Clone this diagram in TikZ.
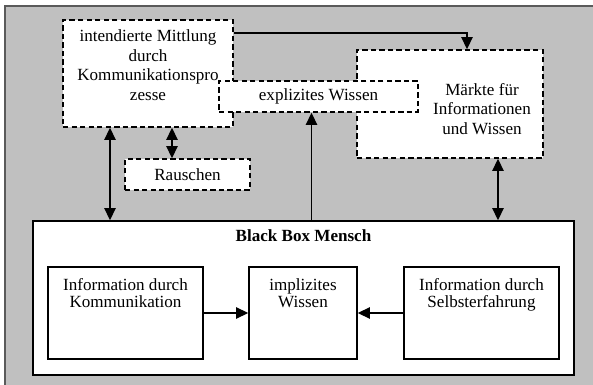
\documentclass[tikz,border=0pt]{standalone}
\usepackage{fontspec}
\setmainfont{Liberation Serif}
\usepackage{tikz}
\usetikzlibrary{arrows.meta,positioning}
\definecolor{backgray}{RGB}{192,192,192}
\definecolor{framegray}{RGB}{90,90,90}

\begin{document}
\begin{tikzpicture}[x=0.75pt,y=-0.75pt,
   box/.style={draw, fill=white, line width=1.25pt, inner sep=0pt},
   dbox/.style={box, dash pattern=on 4pt off 2.4pt, font=\fontsize{12.8}{14.6}\selectfont},
   txt/.style={inner sep=0pt, align=center, font=\fontsize{12.8}{14.6}\selectfont},
   itxt/.style={txt, font=\fontsize{12.8}{12.75}\selectfont},
   arr/.style={line width=1.1pt, -{Triangle[length=9pt,width=8.5pt]}},
   dbl/.style={line width=1.1pt, {Triangle[length=9pt,width=8.5pt]}-{Triangle[length=9pt,width=8.5pt]}}]
   \useasboundingbox (0,0) rectangle (593,385);
   \fill[backgray] (4,5) rectangle (593,385);
   \draw[framegray, line width=1.5pt] (4.8,385) -- (4.8,5.8) -- (593,5.8);

   \node(IM)[dbox, minimum width=127.5pt, minimum height=80.25pt] at (148,73.5) {};
   \node(NIM)[txt, below=8pt] at (IM.north) {intendierte Mittlung\\durch\\Kommunikationspro\\zesse};

   \node(MK)[dbox, minimum width=139.5pt, minimum height=81pt] at (450,104) {};
   \node(NMK)[txt, below=25.4pt, xshift=24pt] at (MK.north) {Märkte für\\Informationen\\und Wissen};

   \node(EW)[dbox, minimum width=149.25pt, minimum height=23.25pt] at (318.5,96.5) {explizites Wissen};
   \node(RS)[dbox, minimum width=93.75pt, minimum height=23.25pt] at (187.5,174.5) {Rauschen};

   \node(BB)[box, minimum width=405.75pt, minimum height=115.5pt] at (303.5,298) {};
   \node(NBB)[txt, below=6.75pt, font=\fontsize{12.8}{14.6}\selectfont\bfseries] at (BB.north) {Black Box Mensch};

   \node(IK)[box, minimum width=116.25pt, minimum height=69pt] at (125.5,313) {};
   \node(NIK)[itxt, below=9pt] at (IK.north) {Information durch\\Kommunikation};
   \node(IW)[box, minimum width=81pt, minimum height=69pt] at (303,313) {};
   \node(NIW)[itxt, below=9pt] at (IW.north) {implizites\\Wissen};
   \node(IS)[box, minimum width=116.25pt, minimum height=69pt] at (481.5,313) {};
   \node(NIS)[itxt, below=9pt] at (IS.north) {Information durch\\Selbsterfahrung};

   \draw[arr] ([yshift=-10.5pt]IM.north east) -| ([xshift=12.75pt]MK.north);
   \draw[dbl] ([xshift=-28.5pt]IM.south) -- ([xshift=-28.5pt]IM.south |- BB.north);
   \draw[dbl] ([xshift=18pt]IM.south) -- ([xshift=18pt]IM.south |- RS.north);
   \draw[arr] ([xshift=-5.25pt]EW.south |- BB.north) -- ([xshift=-5.25pt]EW.south);
   \draw[dbl] ([xshift=36pt]MK.south) -- ([xshift=36pt]MK.south |- BB.north);
   \draw[arr] (IK) -- (IW);
   \draw[arr] (IS) -- (IW);
  \end{tikzpicture}
\end{document}
